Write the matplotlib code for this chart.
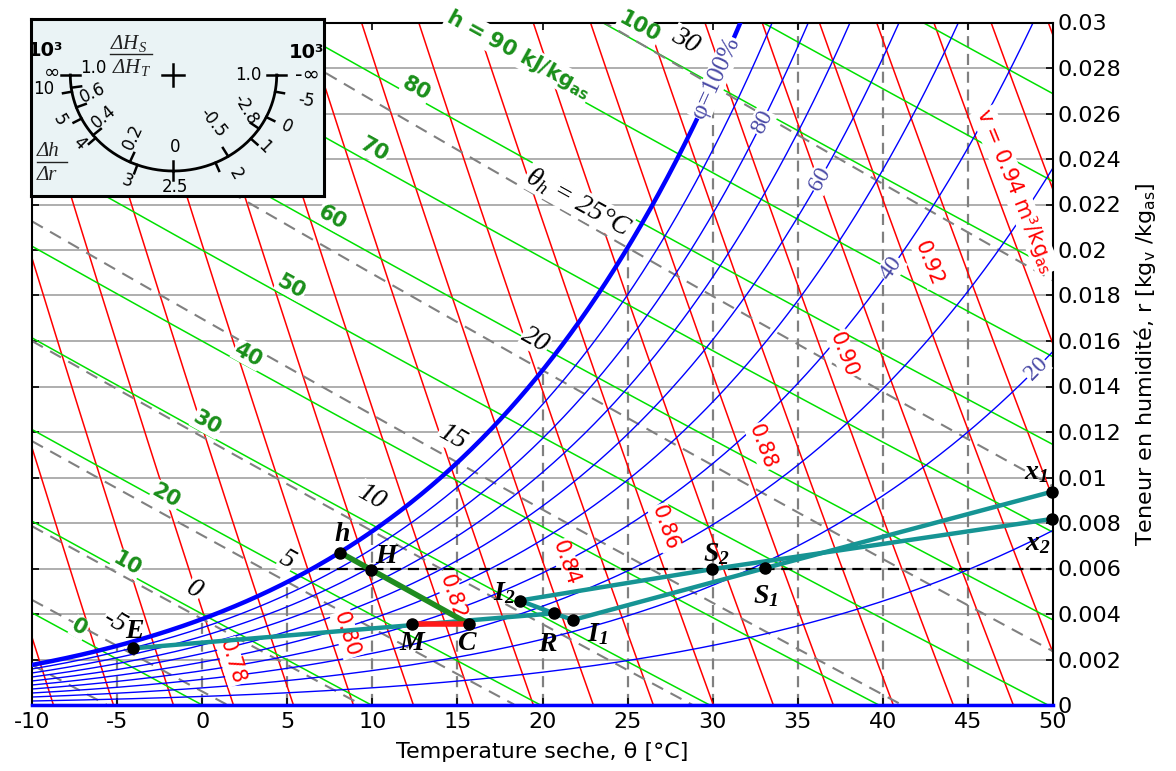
import numpy as np
import matplotlib
matplotlib.use("Agg")
import matplotlib.pyplot as plt

plt.rcParams['font.family'] = 'DejaVu Sans'
plt.rcParams['axes.unicode_minus'] = False
plt.rcParams['mathtext.fontset'] = 'custom'
plt.rcParams['mathtext.rm'] = 'DejaVu Sans'
plt.rcParams['mathtext.sf'] = 'DejaVu Sans:bold'
plt.rcParams['mathtext.it'] = 'Liberation Serif:italic'
plt.rcParams['mathtext.bf'] = 'Liberation Serif:bold:italic'

P_ATM = 101.2  # kPa

# ---- chart families (values) ----
rh_values = [10, 20, 30, 40, 50, 60, 70, 80, 90]          # % (100 drawn thick)
h_values = list(range(0, 130, 10))                        # kJ/kg_as
v_values = [round(0.74 + 0.01 * i, 2) for i in range(23)]  # m3/kg_as
wb_values = [-10, -5, 0, 5, 10, 15, 20, 25, 30]           # degC
grid_temps = [-5, 0, 5, 10, 15, 20, 25, 30, 35, 40, 45]

# labels of the families: (text, theta, r)
h_lab_text = ['0', '10', '20', '30', '40', '50', '60', '70', '80',
              'h = 90 kJ/kg$_\\mathsf{as}$', '100']
h_lab_t = [-7.2, -4.4, -2.1, 0.3, 2.7, 5.25, 7.65, 10.1, 12.6, 18.6, 25.7]
h_lab_r = [0.0034, 0.0062, 0.0092, 0.0124, 0.0154, 0.0184, 0.0214, 0.0244, 0.0271, 0.0286, 0.0298]

v_lab_text = ['0.78', '0.80', '0.82', '0.84', '0.86', '0.88', '0.90', '0.92',
              'v = 0.94 m³/kg$_\\mathrm{as}$']
v_lab_t = [1.75, 8.5, 14.7, 21.4, 27.2, 32.9, 37.7, 42.7, 47.8]
v_lab_r = [0.0019, 0.0031, 0.00475, 0.00625, 0.0078, 0.01135, 0.0154, 0.0194, 0.0226]

rh_lab_text = ['φ=100%', '80', '60', '40', '20']
rh_lab_phi = [100, 80, 60, 40, 20]
rh_lab_t = [30.2, 32.9, 36.3, 40.5, 49.0]

wb_lab_text = ['-5', '0', '5', '10', '15', '20', '$\\theta_h$ = 25°C', '30']
wb_lab_t = [-5.1, -0.45, 5.0, 9.95, 14.7, 19.6, 22.1, 28.4]
wb_lab_r = [0.00365, 0.00506, 0.00638, 0.00915, 0.01179, 0.01606, 0.0221, 0.0292]

# ---- process points ----
pt_name = ['E', 'M', 'C', 'h', 'H', 'I2', 'R', 'I1', 'S2', 'S1', 'x1', 'x2']
pt_t = [-4.06, 12.36, 15.69, 8.11, 9.92, 18.66, 20.67, 21.8, 29.96, 33.05, 49.96, 49.96]
pt_r = [0.00249, 0.00356, 0.00356, 0.0067, 0.00595, 0.00459, 0.00403, 0.00374,
        0.00597, 0.00601, 0.00938, 0.00818]
pt_lab = ['$\\mathbf{E}$', '$\\mathbf{M}$', '$\\mathbf{C}$', '$\\mathbf{h}$', '$\\mathbf{H}$',
          '$\\mathbf{I_2}$', '$\\mathbf{R}$', '$\\mathbf{I_1}$', '$\\mathbf{S_2}$',
          '$\\mathbf{S_1}$', '$\\mathbf{x_1}$', '$\\mathbf{x_2}$']
pt_lab_t = [-3.96, 12.36, 15.59, 8.24, 10.9, 17.74, 20.28, 23.21, 30.25, 33.09, 49.0, 49.12]
pt_lab_r = [0.0033, 0.00279, 0.00279, 0.00757, 0.0066, 0.00498, 0.00271, 0.00315,
            0.00667, 0.00484, 0.01026, 0.00718]

teal_paths = [['E', 'R'], ['I2', 'R', 'I1'], ['I1', 'S1', 'x1'], ['I2', 'S2', 'x2']]
green_path = ['h', 'H', 'C']
red_path = ['M', 'C']
dew_line_t = [6.85, 50]
dew_line_r = [0.006, 0.006]


def psat(t):
    return 0.6108 * np.exp(17.27 * t / (t + 237.3))


def r_rh(phi, t):
    pv = phi / 100.0 * psat(t)
    return 0.622 * pv / (P_ATM - pv)


def r_enth(h, t):
    return (h - 1.006 * t) / (2501 + 1.86 * t)


def r_vol(v, t):
    return (v * P_ATM / (0.287055 * (t + 273.15)) - 1) / 1.6078


def r_wb(tw, t):
    return ((2501 - 2.326 * tw) * r_rh(100, tw) - 1.006 * (t - tw)) / (2501 + 1.86 * t - 4.186 * tw)


fig = plt.figure(figsize=(11.76, 7.71), dpi=100)
ax = fig.add_axes([32 / 1176, 66 / 771, 1021 / 1176, 682.5 / 771])
ax.set_xlim(-10, 50)
ax.set_ylim(0, 0.03)

T = np.linspace(-10, 50, 700)

# grid
for y in np.arange(0.002, 0.0295, 0.002):
    ax.axhline(y, color='#a8a8a8', lw=1.3, zorder=0.5)
for t in grid_temps:
    ax.plot([t, t], [0, min(r_rh(100, t), 0.03)], color='#808080', lw=1.6,
            dashes=(5, 3), zorder=0.6)

# specific volume
for v in v_values:
    ax.plot(T, r_vol(v, T), color='red', lw=1.1, zorder=2)
# enthalpy
for h in h_values:
    ax.plot(T, r_enth(h, T), color='#00e000', lw=1.1, zorder=2)
# relative humidity
for phi in rh_values:
    ax.plot(T, r_rh(phi, T), color='blue', lw=1.0, zorder=2.5)
ax.plot(T, r_rh(100, T), color='blue', lw=3.2, zorder=2.6)
ax.plot(T, 0 * T, color='blue', lw=2.5, zorder=2.6, clip_on=False)
# wet bulb
for tw in wb_values:
    rr = r_wb(tw, T)
    ax.plot(T[rr >= 0], rr[rr >= 0], color='#808080', lw=1.5, dashes=(6, 4), zorder=2.2)


def disp_angle(x0, y0, x1, y1):
    p0 = ax.transData.transform((x0, y0))
    p1 = ax.transData.transform((x1, y1))
    return np.degrees(np.arctan2(p1[1] - p0[1], p1[0] - p0[0]))


box = dict(facecolor='white', edgecolor='none', pad=0.6)

for txt, t, r in zip(h_lab_text, h_lab_t, h_lab_r):
    ang = disp_angle(t - 1, r_enth(60, t - 1), t + 1, r_enth(60, t + 1))
    ax.text(t, r, txt, color='#1a8f1a', fontsize=15, fontweight='bold', rotation=ang,
            ha='center', va='center', rotation_mode='anchor', bbox=box, zorder=4)

for txt, t, r in zip(v_lab_text, v_lab_t, v_lab_r):
    ang = disp_angle(t, r_vol(0.86, t), t + 1, r_vol(0.86, t + 1))
    ax.text(t, r, txt, color='red', fontsize=15, rotation=ang, ha='center', va='center',
            rotation_mode='anchor', bbox=box, zorder=4)

for txt, phi, t in zip(rh_lab_text, rh_lab_phi, rh_lab_t):
    ang = disp_angle(t - 0.3, r_rh(phi, t - 0.3), t + 0.3, r_rh(phi, t + 0.3))
    ax.text(t, r_rh(phi, t), txt, color='#4a4aa6', fontsize=18 if phi == 100 else 17,
            family='Liberation Serif', rotation=ang, ha='center', va='center',
            rotation_mode='anchor', bbox=box, zorder=4)

for txt, t, r in zip(wb_lab_text, wb_lab_t, wb_lab_r):
    ang = disp_angle(t - 1, r_wb(15, t - 1), t + 1, r_wb(15, t + 1))
    ax.text(t, r, txt, color='black', fontsize=20, family='Liberation Serif', style='italic',
            rotation=ang, ha='center', va='center', rotation_mode='anchor', bbox=box, zorder=4)

# process lines
pts = {n: (t, r) for n, t, r in zip(pt_name, pt_t, pt_r)}
ax.plot(dew_line_t, dew_line_r, color='black', lw=1.6, dashes=(5, 3), zorder=4.5)
for path in teal_paths:
    ax.plot([pts[n][0] for n in path], [pts[n][1] for n in path], color='#169494',
            lw=3.2, zorder=5, solid_capstyle='round', clip_on=False)
ax.plot([pts[n][0] for n in green_path], [pts[n][1] for n in green_path], color='#1f8c1f',
        lw=4, zorder=5.1)
ax.plot([pts[n][0] for n in red_path], [pts[n][1] for n in red_path], color='#ff1a1a',
        lw=4, zorder=5.1)
ax.plot(pt_t, pt_r, 'o', color='black', ms=8, zorder=6, clip_on=False)
for lab, t, r in zip(pt_lab, pt_lab_t, pt_lab_r):
    ax.text(t, r, lab, fontsize=20, ha='center', va='center', zorder=7)

# axes
ax.set_xticks(range(-10, 51, 5))
ax.set_yticks(np.arange(0, 0.0301, 0.002))
ax.set_yticklabels(['0'] + ['%g' % v for v in np.round(np.arange(0.002, 0.0301, 0.002), 3)])
ax.yaxis.tick_right()
ax.yaxis.set_label_position('right')
ax.tick_params(direction='in', length=5, width=1.2, top=True, bottom=True, left=True,
               right=True, labelleft=False, labelright=True, labelsize=16, pad=3)
ax.tick_params(axis='x', pad=5)
ax.set_xlabel('Temperature seche, θ [°C]', fontsize=16, labelpad=7)
ax.set_ylabel('Teneur en humidité, r [kg$_\\mathrm{v}$ /kg$_\\mathrm{as}$]', fontsize=16,
              labelpad=8)
for s in ax.spines.values():
    s.set_linewidth(1.5)

# ---- inset protractor (pixel coordinates of the box) ----
ins = fig.add_axes([31 / 1176, (771 - 196) / 771, 293 / 1176, 177 / 771])
ins.set_xlim(0, 293)
ins.set_ylim(0, 177)
ins.set_xticks([])
ins.set_yticks([])
ins.set_facecolor('#eaf3f5')
for s in ins.spines.values():
    s.set_linewidth(2.2)
ins.set_zorder(20)

cx, cy, rx, ry = 142.5, 121.0, 103.2, 96.0
a = np.radians(np.linspace(180, 360, 300))
ins.plot(cx + rx * np.cos(a), cy + ry * np.sin(a), color='black', lw=2)
ins.plot([cx - 11, cx + 11], [cy, cy], color='black', lw=1.8)
ins.plot([cx, cx], [cy - 11, cy + 11], color='black', lw=1.8)

outer_ang = [180, 190, 207, 221, 249.5, 270, 294, 318.5, 334, 350, 360]
inner_ang = [180, 187.6, 199.7, 218.8, 245, 270, 302, 326, 360]
for ang in outer_ang:
    c, s = np.cos(np.radians(ang)), np.sin(np.radians(ang))
    x0, y0 = cx + rx * c, cy + ry * s
    ins.plot([x0, x0 + 9 * c], [y0, y0 + 9 * s], color='black', lw=1.8)
for ang in inner_ang:
    c, s = np.cos(np.radians(ang)), np.sin(np.radians(ang))
    x0, y0 = cx + rx * c, cy + ry * s
    ins.plot([x0, x0 - 10 * c], [y0, y0 - 10 * s], color='black', lw=1.8)


def ins_text(px, py, txt, rot=0, **kw):
    ins.text(px - 31, 196 - py, txt, rotation=rot, ha='center', va='center',
             rotation_mode='anchor', **kw)


num = dict(fontsize=12)
ins_text(46, 51, '10³', fontsize=14, fontweight='bold')
ins_text(307, 52, '10³', fontsize=14, fontweight='bold')
ins_text(52, 72, '∞', fontsize=14)
ins_text(307, 75, '-∞', fontsize=15)
ins_text(93, 68, '1.0', **num)
ins_text(248, 75, '1.0', **num)
ins_text(44, 89, '10', **num)
ins_text(93, 93, '0.6', rot=25, **num)
ins_text(60, 120, '5', rot=-60, **num)
ins_text(104, 117, '0.4', rot=40, **num)
ins_text(79, 143, '4', rot=-45, **num)
ins_text(133, 137, '0.2', rot=65, **num)
ins_text(127, 181, '3', rot=-20, **num)
ins_text(175, 147, '0', **num)
ins_text(175, 187, '2.5', **num)
ins_text(306, 100, '-5', rot=-10, **num)
ins_text(246, 109, '-2.8', rot=-60, **num)
ins_text(213, 123, '-0.5', rot=-52, **num)
ins_text(287, 127, '0', rot=-25, **num)
ins_text(264, 147, '1', rot=-45, **num)
ins_text(236, 174, '2', rot=-60, **num)
serif_it = dict(family='Liberation Serif', style='italic', fontsize=15, color='#222222')
ins_text(129, 44, 'ΔH$_S$', **serif_it)
ins_text(132, 67, 'ΔH$_T$', **serif_it)
ins.plot([110 - 31, 152 - 31], [196 - 54, 196 - 54], color='#222222', lw=1)
ins_text(48, 151, 'Δh', **serif_it)
ins_text(47, 175, 'Δr', **serif_it)
ins.plot([37 - 31, 67 - 31], [196 - 162, 196 - 162], color='#222222', lw=1)

fig.savefig('out.png', dpi=100)
